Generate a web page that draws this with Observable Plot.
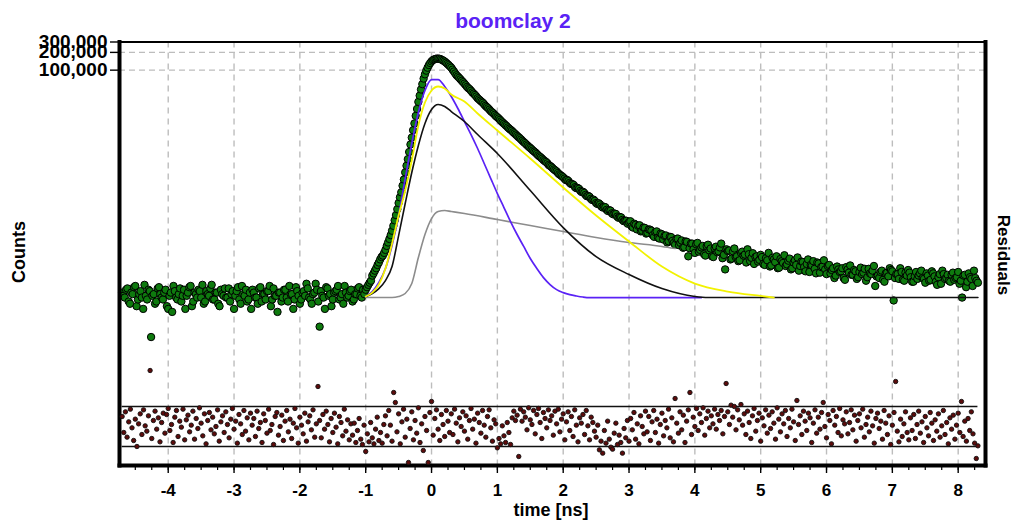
<!DOCTYPE html>
<html><head><meta charset="utf-8">
<script src="https://cdn.jsdelivr.net/npm/d3@7"></script>
<script src="https://cdn.jsdelivr.net/npm/@observablehq/plot@0.6"></script>
<style>
body{margin:0;background:#fff;}
#wrap{position:relative;width:1013px;height:521px;overflow:hidden;background:#fff;font-family:"Liberation Sans",Arial,sans-serif;font-weight:bold;}
#wrap svg{position:absolute;left:0;top:0;}
.lbl{position:absolute;white-space:nowrap;text-align:center;color:#000;}
</style></head>
<body>
<div id="wrap"></div>
<script>
// ---------- data ----------
const titleText = "boomclay 2";
const xLabel = "time [ns]";
const yLabelLeft = "Counts";
const yLabelRight = "Residuals";

const xTickValues = [-4,-3,-2,-1,0,1,2,3,4,5,6,7,8];
const yTickValues = [100000, 200000, 300000];
const yGridValues = [100000, 200000];
const residualBand = [-3, 3];

// measured counts, even channels: start time and spacing (ns)
const countsStartT = -4.70, countsStepT = 0.04;
const counts = [
17,14,20,11,16,22,13,18,9,15,
19,3,16,12,21,14,17,10,15,8,
18,13,20,15,9,17,22,12,16,19,
14,11,18,15,23,13,17,10,16,20,
14,12,18,15,21,11,16,19,13,9,
17,14,20,12,16,18,22,13,15,8,
17,14,19,12,16,9,21,15,13,18,
24,14,11,17,19,4.5,15,9,20,16,
13,18,22,14,11,17,15,19,13,16,
21,14,
16,21,25,33,40,50,62,72,90,120,
160,230,350,560,850,1400,2400,4100,7200,12500,
22000,37000,58000,85000,110000,132000,148000,155000,157000,153000,
145000,134000,122000,110000,
95000,82000,74000,66000,59000,52000,47500,42000,38000,33500,
30500,28000,24800,22600,20200,18500,16600,15200,13600,12400,
11300,10200,9400,8500,7700,7050,6350,5800,5250,4800,
4350,4000,3600,3320,3000,2780,2480,2300,2080,1920,
1720,1600,
1450,1380,1230,1170,1040,1010,900,870,770,740,
660,640,560,555,490,485,430,425,375,372,
330,325,290,282,250,
275,215,240,230,185,215,170,200,190,150,
185,140,165,155,120,150,128,110,140,118,
98,125,70,115,92,
112,84,99,76,104,88,70,96,82,99,65,42,86,
62,85,68,58,80,72,55,76,66,52,70,61,
68,50,60,47,66,56,44,63,54,48,59,42,55,50,40,57,46,52,38,49,43,55,37,47,42,
48,36,44,33,42,39,30,46,37,34,41,29,38,35,43,31,36,40,22,33,38,28,36,32,41,
12.5,35,29,38,27,33,37,26,32,29,36,30,25,
33,28,36,26,31,24,35,30,27,34,28,31,
24,14,34,26,31,22,30,25
];

// measured counts, odd channels: start time and spacing (ns)
const countsOddStartT = -4.68, countsOddStepT = 0.04;
const countsOdd = [
15,19,12,17,21,10,16,14,23,13,
18,15,11,20,16,13,19,9,17,22,
14,16,12,19,15,21,10,17,14,18,
23,12,16,20,13,17,11,19,15,14,
20,16,9,18,13,22,15,12,17,19,
14,11,21,16,13,18,10,20,15,17,
12,19,14,22,16,13,18,11,17,15,
20,13,16,24,12,18,14,21,15,10,
17,19,13,16,22,14,18,12,16,20,
15,19,
19,23,27,36,44,55,68,80,105,138,
190,285,440,700,1100,1850,3100,5500,9600,16800,
29000,47000,72000,98000,122000,141000,152000,157000,156000,149000,
140000,128000,116000,
102000,88000,78000,70000,62500,55500,49500,44800,40000,35800,
32000,29200,26300,23700,21400,19300,17500,15900,14400,13000,
11800,10700,9800,8900,8100,7350,6700,6050,5500,5000,
4580,4170,3800,3450,3160,2880,2640,2390,2180,2000,
1810,1660,
1530,1370,1320,1180,1130,1000,975,860,830,730,
715,630,610,540,530,470,475,410,415,360,
365,315,320,276,280,265,225,250,200,235,
190,212,175,198,160,180,145,170,135,158,
126,148,118,138,108,130,100,123,96,115,
80,118,90,105,72,110,95,68,102,85,115,74,92,
88,64,95,70,60,84,75,92,58,79,68,57,
74,52,65,80,49,62,70,45,58,73,51,64,44,60,67,48,56,39,62,50,58,36,53,46,60,
35,50,41,30,47,38,44,28,42,49,34,39,31,45,37,27,43,35,48,32,30,40,26,37,44,
39,30,35,44,28,37,41,31,26,38,33,40,29,
36,27,39,32,23,35,40,29,34,26,37,30,
38,27,33,21,36,29,40,27
];

// weighted residuals: start time and spacing (ns)
const residStartT = -4.70, residStepT = 0.025;
const residuals = [
1.5,-0.9,2.2,-1.6,0.7,2.6,-0.2,-2.1,1.1,-3.0,0.4,1.9,-1.2,2.5,0.1,-0.7,1.6,8.4,-1.8,0.9,2.3,-0.4,1.3,-2.3,0.6,2.0,-1.0,1.8,2.7,-0.6,0.3,-2.4,1.4,2.4,-1.5,0.8,-0.1,2.6,-2.0,1.0,
1.7,-0.8,0.2,2.3,-1.9,1.2,-0.3,2.8,0.5,-1.4,1.9,-2.6,0.9,2.1,-0.5,1.4,-1.1,0.0,2.5,-2.2,0.7,1.6,-0.9,2.2,0.3,-1.7,1.1,2.7,-0.4,0.8,-2.5,1.8,0.4,-1.2,2.4,-0.7,1.3,-2.0,2.0,0.2,
1.2,-1.5,2.3,-0.3,0.6,-2.4,1.9,0.9,-1.0,2.6,-0.6,0.3,-2.7,1.5,2.1,-1.3,0.0,1.7,-2.1,0.8,2.4,-0.8,1.1,-1.8,0.5,2.7,-0.2,-2.5,1.4,0.2,-1.1,2.0,-2.2,0.7,1.6,-0.5,2.5,-1.6,0.4,6.0,
0.9,-1.7,1.8,-0.4,2.3,0.3,-2.3,1.2,-0.9,2.0,-0.1,-2.6,1.5,0.6,-1.4,2.6,-0.7,1.0,-2.0,0.4,-1.3,0.5,-2.4,-0.6,1.2,-1.9,-2.7,0.2,-3.75,-1.1,-2.3,0.6,-1.7,-2.6,-0.4,1.4,-2.1,-0.9,-2.5,0.3,
1.6,-1.4,2.4,0.2,-2.2,5.1,3.6,-0.8,1.9,-2.6,0.7,2.6,-1.6,1.1,-5.4,-0.3,2.2,-2.0,0.9,-1.0,2.8,-2.4,0.4,-3.6,1.5,-0.6,-5.4,2.1,3.75,-1.3,1.2,2.5,-0.4,-2.1,1.8,0.3,-1.5,2.4,0.8,-0.9,
1.9,-1.2,2.6,0.5,-2.3,1.3,0.0,2.2,-0.7,1.6,-1.9,0.9,2.7,-0.4,1.1,-2.5,2.0,0.6,-1.0,2.4,0.2,-1.6,1.5,2.5,-0.2,-2.2,1.0,0.4,-3.2,-1.8,-2.6,0.1,-1.4,-2.4,0.6,-0.9,-2.7,1.3,2.3,0.9,
1.7,-4.5,2.6,0.8,2.2,1.4,-0.5,2.8,1.0,0.3,2.4,-1.1,1.8,2.7,0.6,-1.8,2.1,1.2,-0.2,2.5,0.9,1.6,-1.3,2.3,0.4,2.6,-0.8,1.1,1.9,-2.0,0.7,2.2,-0.6,1.5,-1.5,2.5,0.2,-2.3,1.3,0.5,
1.8,-1.2,2.4,0.1,-2.0,1.4,0.6,-0.7,-1.6,0.2,-3.5,-2.2,-4.0,-0.6,-2.5,0.8,-1.9,-3.1,-3.4,-1.0,0.5,-2.7,-1.3,-2.4,-4.0,-0.3,-1.7,0.9,-2.2,1.2,-0.5,2.1,-1.9,0.4,-2.6,1.6,0.0,-1.1,2.3,-0.8,
1.5,-2.1,0.7,2.4,-0.9,1.1,-2.5,0.3,2.0,-1.4,0.9,-0.2,2.6,-1.7,1.3,-2.3,4.2,0.5,-1.0,2.2,-0.5,1.7,-2.4,0.8,2.5,5.1,-1.2,1.4,0.0,2.7,-0.6,1.9,0.6,2.8,-1.3,1.2,2.3,-0.2,1.6,0.4,
2.6,-0.4,1.8,0.9,2.4,-1.1,1.5,6.45,2.2,0.3,3.2,1.4,3.0,-0.5,2.5,1.0,3.3,0.2,1.9,-1.2,2.3,0.6,-1.8,1.6,2.7,-0.7,0.9,2.0,-2.2,1.3,0.1,2.5,-1.0,1.7,-0.3,2.2,0.5,-1.9,2.8,1.1,
-0.8,1.9,0.4,2.4,-1.5,1.2,-0.2,2.6,0.7,-2.1,3.9,0.3,1.6,-1.2,2.3,0.8,-0.6,2.0,1.3,-2.4,0.5,2.5,-1.0,1.4,-0.4,2.1,3.6,0.0,-1.7,1.8,0.9,-2.6,2.4,0.2,1.5,-0.9,2.7,-1.4,1.0,0.4,
2.2,-1.1,0.6,2.5,-0.5,1.7,-2.2,0.9,1.9,-0.2,2.6,-1.6,0.3,1.4,-0.8,2.3,0.1,-2.5,1.2,2.0,-0.3,0.8,-1.9,2.4,0.5,-1.2,1.6,-2.7,0.2,2.1,6.75,-0.7,-2.3,1.1,-1.5,0.4,2.2,-0.9,-2.0,1.3,
-0.6,1.8,-1.8,0.3,2.3,-1.0,0.7,-2.4,1.5,-0.2,-1.4,2.1,0.5,-2.1,1.0,-0.7,1.9,-1.6,0.1,2.4,-1.2,0.6,-2.6,1.3,-0.4,1.7,-1.9,0.2,2.0,-0.9,3.75,-1.5,0.8,-2.2,1.2,-0.6,2.2,-1.1,-2.5,-4.8,-2.9
];

// fitted components (time ns, counts)
const purpleT = [-1.0,-0.9,-0.8,-0.7,-0.6,-0.5,-0.4,-0.3,-0.2,-0.1,0,0.1,0.2,0.3,0.4,0.5,0.6,0.7,0.8,0.9,1.0,1.1,1.2,1.3,1.4,1.5,1.6,1.7,1.8,1.9,2.0,2.1,2.2,2.3,2.4,4.1];
const purpleV = [14.6,17.7,25.2,43.4,107,344,1455,5715,19140,45190,69340,69340,52840,35730,22390,13490,8110,4700,2620,1455,811,470,272,164,103,64.3,43.4,30.5,23.3,19.1,17.0,15.7,14.9,14.3,14.0,14.0];

const yellowT = [-1.0,-0.9,-0.8,-0.7,-0.6,-0.5,-0.4,-0.3,-0.2,-0.1,0,0.1,0.2,0.3,0.5,0.7,1.0,1.5,2.0,2.5,3.0,3.5,4.0,4.5,5.0,5.2];
const yellowV = [14.6,17.0,23.3,43.4,115,344,912,2944,11530,28310,45190,52840,48870,38640,29440,18410,9480,3177,1026,344,125,47.0,24.2,17.7,14.9,14.0];

const blackT = [-1.0,-0.9,-0.8,-0.7,-0.6,-0.5,-0.4,-0.3,-0.2,-0.1,0,0.1,0.2,0.3,0.5,0.7,1.0,1.5,2.0,2.5,3.0,3.5,4.0,4.2,8.3];
const blackV = [14.6,16.4,19.9,27.2,47.0,157,550,1841,5284,12470,21530,26180,24210,19910,13490,8110,3864,912,215,69.3,34.4,19.9,14.6,14.0,14.0];

const grayT = [-1.0,-0.6,-0.5,-0.4,-0.3,-0.2,-0.1,0,0.1,0.2,0.3,0.5,1.0,1.5,2.0,2.5,3.0,3.5,3.7];
const grayV = [14.0,14.0,14.6,16.4,24.2,66.7,164,305,402,418,402,372,294,233,184,146,120,103,94.8];

// ---------- build tables ----------
const chan = (t0, dt, i) => Math.round((t0 + i * dt) * 1000) / 1000;
const countData = counts.map((c, i) => ({t: chan(countsStartT, countsStepT, i), c}))
  .concat(countsOdd.map((c, i) => ({t: chan(countsOddStartT, countsOddStepT, i), c})))
  .sort((a, b) => a.t - b.t);
const residData = residuals.map((r, j) => ({t: chan(residStartT, residStepT, j), r}));
const zipFit = (T, V) => T.map((t, i) => ({t, v: V[i]}));
const purple = zipFit(purpleT, purpleV);
const yellow = zipFit(yellowT, yellowV);
const black = zipFit(blackT, blackV);
const gray = zipFit(grayT, grayV);
const xMinor = d3.range(-4.5, 8.3, 0.25);

const W = 1013, H = 521;
const M = {left: 119, right: 28, top: 41.5, bottom: 56};
const xDomain = [-4.74, 8.415];
const font = "Liberation Sans, Arial, Helvetica, sans-serif";
const purpleColor = "#5a22f5";

const main = Plot.plot({
  width: W, height: H,
  marginLeft: M.left, marginRight: M.right, marginTop: M.top, marginBottom: M.bottom,
  x: {domain: xDomain},
  y: {type: "log", domain: [1, 300000], range: [364.7, 41.5]},
  style: {fontFamily: font, fontSize: "17px", fontWeight: "bold", color: "#000", background: "transparent", overflow: "visible"},
  marks: [
    Plot.gridX(xTickValues, {stroke: "#bdbdbd", strokeOpacity: 1, strokeWidth: 1.4, strokeDasharray: "6,5"}),
    Plot.gridY(yGridValues, {stroke: "#bdbdbd", strokeOpacity: 1, strokeWidth: 1.4, strokeDasharray: "6,4"}),
    Plot.axisX(xMinor, {tickSize: 5, tickFormat: () => "", label: null, strokeWidth: 1.2}),
    Plot.axisX(xTickValues, {tickSize: 8, tickPadding: 10, tickFormat: d => String(d), label: null, strokeWidth: 1.4}),
    Plot.axisY(yTickValues, {tickSize: 9, tickFormat: () => "", label: null, strokeWidth: 1.4}),
    Plot.text(yTickValues, {y: d => d, text: d => d3.format(",")(d), frameAnchor: "left", textAnchor: "end", dx: -12, fontSize: 19, fontWeight: "bold", fontFamily: font, fill: "#000"}),
    Plot.dot(countData, {x: "t", y: "c", r: 3.7, fill: "#0e7a0e", stroke: "#000", strokeWidth: 1}),
    Plot.line(gray, {x: "t", y: "v", stroke: "#8c8c8c", strokeWidth: 1.6, curve: "monotone-x"}),
    Plot.line(purple, {x: "t", y: "v", stroke: purpleColor, strokeWidth: 1.7, curve: "monotone-x"}),
    Plot.line(black, {x: "t", y: "v", stroke: "#111", strokeWidth: 1.6, curve: "monotone-x"}),
    Plot.line(yellow, {x: "t", y: "v", stroke: "#f2f200", strokeWidth: 1.8, curve: "monotone-x"}),
    Plot.frame({stroke: "#000", strokeWidth: 2}),
    Plot.frame({anchor: "left", stroke: "#000", strokeWidth: 4}),
    Plot.frame({anchor: "right", stroke: "#000", strokeWidth: 4}),
    Plot.frame({anchor: "bottom", stroke: "#000", strokeWidth: 4})
  ]
});

const resid = Plot.plot({
  width: W, height: H,
  marginLeft: M.left, marginRight: M.right, marginTop: M.top, marginBottom: M.bottom,
  x: {domain: xDomain, axis: null},
  y: {domain: residualBand, range: [446, 406], axis: null},
  style: {background: "transparent", overflow: "visible"},
  marks: [
    Plot.ruleY(residualBand, {x1: residData[0].t, x2: residData[residData.length - 1].t, stroke: "#111", strokeWidth: 1.3}),
    Plot.dot(residData, {x: "t", y: "r", r: 2.2, fill: "#5c0b0b", stroke: "#111", strokeWidth: 0.9})
  ]
});

const wrap = document.getElementById("wrap");
wrap.appendChild(main);
wrap.appendChild(resid);

function label(text, css) {
  const d = document.createElement("div");
  d.className = "lbl";
  d.textContent = text;
  Object.assign(d.style, css);
  wrap.appendChild(d);
}
label(titleText, {left: "413px", top: "10px", width: "200px", fontSize: "21px", lineHeight: "21px", color: purpleColor});
label(yLabelLeft, {left: "-41.5px", top: "242px", width: "120px", height: "20px", fontSize: "18px", lineHeight: "20px", transform: "rotate(-90deg)"});
label(yLabelRight, {left: "943px", top: "245px", width: "120px", height: "20px", fontSize: "17px", lineHeight: "20px", transform: "rotate(90deg)"});
label(xLabel, {left: "451px", top: "500px", width: "200px", fontSize: "18px", lineHeight: "20px"});
</script>
</body></html>
